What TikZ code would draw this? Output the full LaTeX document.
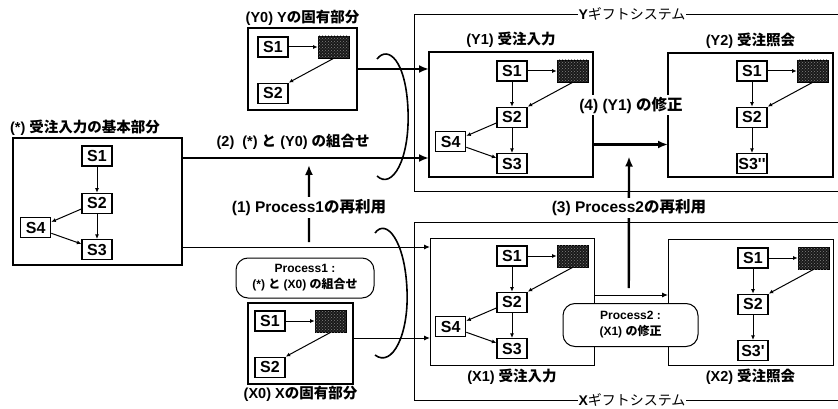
\documentclass[tikz,border=0pt]{standalone}
\usepackage{fontspec}
\setmainfont{Liberation Sans}
\newfontfamily\jp{Noto Sans CJK JP}
\usetikzlibrary{arrows.meta,positioning,patterns}
\newcommand{\OwnPart}[3]{%
  \node[sbox] (#1s1) at (#2,#3) {S1};
  \node[darkbox, right=29pt of #1s1] (#1dk) {};
  \node[sbox, below=25pt of #1s1] (#1s2) {S2};
  \draw[flow] (#1s1) -- (#1dk);
  \draw[flow] (#1dk.south) -- (#1s2.north east);
}
\newcommand{\InputPart}[1]{%
  \node[sbox, below left=3pt and 30pt of #1s2] (#1s4) {S4};
  \node[sbox, below=25pt of #1s2] (#1s3) {S3};
  \draw[flow] (#1s1) -- (#1s2);
  \draw[flow] (#1s2.200) -- (#1s4.20);
  \draw[flow] (#1s4.-20) -- (#1s3.160);
  \draw[flow] (#1s2) -- (#1s3);
}
\newcommand{\QueryPart}[2]{%
  \node[sbox, below=25pt of #1s2] (#1s3) {#2};
  \draw[flow] (#1s1) -- (#1s2);
  \draw[flow] (#1s2) -- (#1s3);
}
\begin{document}
\begin{tikzpicture}[x=1pt,y=-1pt,
    sbox/.style={draw, line width=1.3pt, fill=white, minimum width=30pt, minimum height=20pt, inner sep=0pt, font=\fontsize{16}{16}\selectfont\bfseries},
    darkbox/.style={draw, line width=0.8pt, fill=black!90, minimum width=31pt, minimum height=22pt, inner sep=0pt, postaction={pattern=crosshatch dots, pattern color=gray}},
    flow/.style={-{Latex[length=4.5pt,width=4pt]}, line width=1pt},
    bigbox/.style={draw, line width=2.6pt, inner sep=0pt, outer sep=0pt, anchor=north west},
    thinbox/.style={draw, line width=0.9pt, inner sep=0pt, outer sep=0pt, anchor=north west},
    midbox/.style={thinbox, line width=1.8pt},
    lab/.style={font=\fontsize{14.5}{16}\selectfont\bfseries, inner sep=1pt},
    biglab/.style={font=\fontsize{15.5}{17}\selectfont\bfseries, fill=white, inner sep=2pt},
    bigflow/.style={-{Latex[length=10pt,width=8pt]}, line width=2.4pt},
    thinflow/.style={-{Latex[length=6pt,width=5pt]}, line width=1pt},
    procbox/.style={draw, fill=white, line width=1pt, rounded corners=12pt, align=center, inner sep=0pt, font=\fontsize{12}{16}\selectfont\bfseries},
    syslab/.style={fill=white, inner sep=1pt, font=\fontsize{14}{15}\selectfont}]
  \useasboundingbox (0,0) rectangle (838,409);
  % gift systems
  \draw[line width=0.9pt] (838,14) -- (414,14) -- (414,191) -- (838,191);
  \node[syslab] (ysys) at (632,14) {\textbf{Y}\jp ギフトシステム};
  \draw[line width=0.9pt] (838,222) -- (414,222) -- (414,400) -- (838,400);
  \node[syslab] (xsys) at (632,400) {\textbf{X}\jp ギフトシステム};

  % parts
  \node[bigbox, minimum width=169pt, minimum height=127pt] (base) at (13,138) {};
  \node[lab] (baselab) at (85,128) {(*) {\jp 受注入力の基本部分}};
  \node[bigbox, minimum width=109pt, minimum height=82pt] (y0) at (248,28) {};
  \node[lab, above=1pt of y0] (y0lab) {(Y0) Y{\jp の固有部分}};
  \node[midbox, minimum width=105pt, minimum height=81pt] (x0) at (248,303) {};
  \node[lab, below=1pt of x0] (x0lab) {(X0) X{\jp の固有部分}};
  \node[bigbox, minimum width=164pt, minimum height=125pt] (y1) at (429,52) {};
  \node[lab, above=3pt of y1] (y1lab) {(Y1) {\jp 受注入力}};
  \node[bigbox, minimum width=165pt, minimum height=124pt] (y2) at (668,53) {};
  \node[lab, above=3pt of y2] (y2lab) {(Y2) {\jp 受注照会}};
  \node[thinbox, minimum width=164pt, minimum height=127pt] (x1) at (430,238) {};
  \node[lab, below=3pt of x1] (x1lab) {(X1) {\jp 受注入力}};
  \node[thinbox, minimum width=165pt, minimum height=126pt] (x2) at (668,239) {};
  \node[lab, below=3pt of x2] (x2lab) {(X2) {\jp 受注照会}};

  % steps
  \node[sbox] (bs1) at (97,156) {S1};
  \node[sbox, below=26pt of bs1] (bs2) {S2};
  \InputPart{b}
  \OwnPart{y0}{273}{47}
  \OwnPart{x0}{270}{321}
  \OwnPart{y1}{512}{71}
  \InputPart{y1}
  \OwnPart{x1}{512}{256}
  \InputPart{x1}
  \OwnPart{y2}{752}{71}
  \QueryPart{y2}{S3\textquotesingle\textquotesingle}
  \OwnPart{x2}{753}{258}
  \QueryPart{x2}{S3\textquotesingle}

  % combining
  \draw[bigflow] (y0.east) -- (y0.east -| y1.west);
  \draw[bigflow] ([yshift=-20pt]base.north east) -- ([yshift=-20pt]base.north east -| y1.west)
    coordinate[pos=0.514] (p1high)
    node[lab, above=6pt, pos=0.45] (lab2) {(2)\ \ (*) {\jp と} (Y0) {\jp の組合せ}};
  \draw[thinflow] ([yshift=18pt]base.south east) -- ([yshift=18pt]base.south east -| x1.west)
    coordinate[pos=0.512] (p1low);
  \draw[thinflow] ([yshift=5.5pt]x0.east) -- ([yshift=5.5pt]x0.east -| x1.west);
  \draw[bigflow] ([yshift=5pt]p1low) -- ([yshift=-7pt]p1high)
    node[biglab, pos=0.45] (lab1) {(1) Process1{\jp の再利用}};
  \node[procbox, minimum width=138pt, minimum height=40pt] (proc1) at (305,278)
    {Process1 :\\(*) {\jp と} (X0) {\jp の組合せ}};
  \draw[line width=1.6pt] (377,59) .. controls (388,45) and (406,60) .. (408,110)
    .. controls (410,160) and (392,190) .. (377,176);
  \draw[line width=1.6pt] (375,233) .. controls (386,218) and (405,240) .. (407,290)
    .. controls (409,335) and (392,368) .. (375,355);

  % modifying
  \draw[bigflow] ([yshift=-30pt]y1.east) -- ([yshift=-30pt]y1.east -| y2.west)
    coordinate[pos=0.48] (p2high);
  \node[biglab] (lab4) at (631,105) {(4) (Y1) {\jp の修正}};
  \draw[thinflow] ([yshift=6.5pt]x1.east) -- ([yshift=6.5pt]x1.east -| x2.west)
    coordinate[pos=0.47] (p2low);
  \draw[bigflow] ([yshift=7pt]p2low) -- ([yshift=-12pt]p2high)
    node[biglab, pos=0.61] (lab3) {(3) Process2{\jp の再利用}};
  \node[procbox, minimum width=135pt, minimum height=43pt] (proc2) at (630.5,325)
    {Process2 :\\(X1) {\jp の修正}};
\end{tikzpicture}
\end{document}
